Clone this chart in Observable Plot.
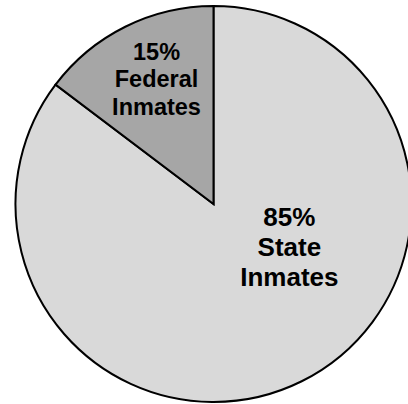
<!DOCTYPE html>
<html><head><meta charset="utf-8">
<script src="https://cdn.jsdelivr.net/npm/d3@7"></script>
<script src="https://cdn.jsdelivr.net/npm/@observablehq/plot@0.6"></script>
<style>html,body{margin:0;padding:0;background:#fff;overflow:hidden}</style>
</head><body><div id="chart"></div>
<script>
// Data
const categories = ["State Inmates", "Federal Inmates"];
const shares = [85.3, 14.7];
const labels = ["85%\nState\nInmates", "15%\nFederal\nInmates"];
const colors = ["#d9d9d9", "#a6a6a6"];

// Label placement (polar, clockwise from top; radius as fraction of pie radius)
const labelAngleDeg = [119, -24.5];
const labelRadius = [0.435, 0.70];
const labelFontSize = [26, 23.5];

const data = categories.map((c, i) => ({category: c, value: shares[i], label: labels[i], color: colors[i]}));
const pie = d3.pie().sort(null).value(d => d.value)(data);

const labelData = data.map((d, i) => {
  const a = labelAngleDeg[i] * Math.PI / 180;
  return {
    label: d.label,
    x: labelRadius[i] * Math.sin(a),
    y: labelRadius[i] * Math.cos(a),
    size: labelFontSize[i]
  };
});

function pieMark(index, scales, values, dimensions) {
  const cx = scales.x(0), cy = scales.y(0);
  const r = scales.x(1) - scales.x(0);
  const arc = d3.arc().innerRadius(0).outerRadius(r);
  const g = d3.create("svg:g").attr("transform", `translate(${cx},${cy})`);
  g.selectAll("path").data(pie).join("path")
    .attr("d", arc)
    .attr("fill", d => d.data.color)
    .attr("stroke", "#000")
    .attr("stroke-width", 2)
    .attr("stroke-linejoin", "miter");
  return g.node();
}

const chart = Plot.plot({
  width: 408,
  height: 404,
  margin: 0,
  style: {background: "#fff", overflow: "hidden"},
  x: {type: "linear", domain: [-1, 1], range: [15.5, 411.5], axis: null},
  y: {type: "linear", domain: [-1, 1], range: [402, 6], axis: null},
  marks: [
    pieMark,
    Plot.text(labelData, {
      x: "x", y: "y", text: "label",
      fontSize: "size",
      lineHeight: 1.17,
      fontWeight: "bold",
      fontFamily: "Liberation Sans, Arial, sans-serif",
      fill: "#000",
      textAnchor: "middle",
      lineAnchor: "middle"
    })
  ]
});
document.getElementById("chart").appendChild(chart);
</script>
</body></html>
